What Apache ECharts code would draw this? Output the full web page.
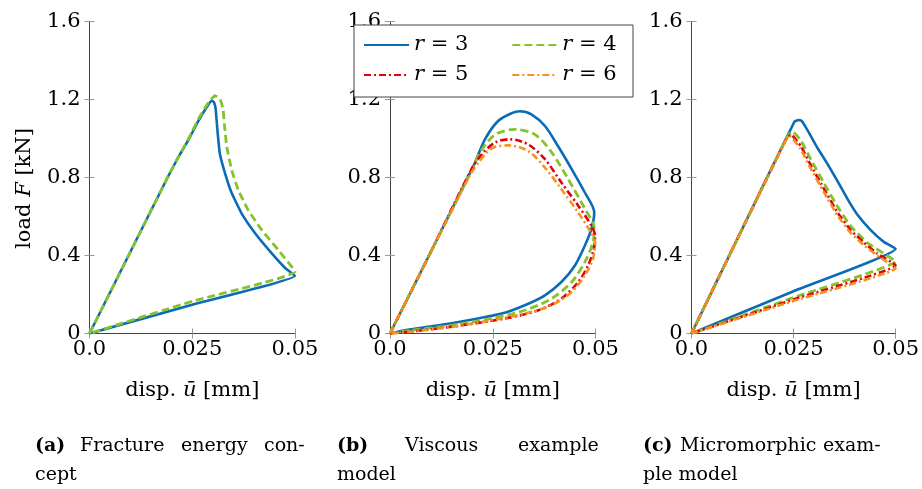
<!DOCTYPE html>
<html>
<head>
<meta charset="utf-8">
<script src="https://cdn.jsdelivr.net/npm/echarts@6/dist/echarts.min.js"></script>
<style>
  html, body { margin: 0; padding: 0; background: #fff; }
  #chart { width: 922px; height: 489px; }
</style>
</head>
<body>
<div id="chart"></div>
<script>
/************** 数据 ***************/
var xTicks = [0, 0.025, 0.05];
var xTickLabels = ['0.0', '0.025', '0.05'];
var yTickLabels = ['0', '0.4', '0.8', '1.2', '1.6'];
var seriesNames = ['r = 3', 'r = 4', 'r = 5', 'r = 6'];

// (a) fracture energy concept
var aR3 = [[0, 0], [0.0095, 0.4], [0.019, 0.8], [0.0215, 0.9], [0.0240, 0.99], [0.0265, 1.09], [0.0285, 1.16],
    [0.0297, 1.195], [0.0303, 1.185], [0.0307, 1.15], [0.0309, 1.10], [0.0312, 1.025], [0.0317, 0.923],
    [0.033, 0.82], [0.0346, 0.72], [0.037, 0.616], [0.0403, 0.514], [0.0443, 0.412], [0.0476, 0.336],
    [0.05, 0.296], [0.025, 0.148], [0, 0]];
var aR4 = [[0, 0], [0.0095, 0.4], [0.019, 0.8], [0.0215, 0.9], [0.0240, 0.995], [0.0265, 1.1], [0.0288, 1.18],
    [0.0305, 1.22], [0.0318, 1.20], [0.0325, 1.15], [0.0328, 1.076], [0.0334, 0.957], [0.0346, 0.838],
    [0.0362, 0.735], [0.0386, 0.633], [0.0419, 0.531], [0.0459, 0.429], [0.05, 0.318], [0.025, 0.165], [0, 0]];

// (b) viscous example model
var bR3 = [[0, 0], [0.0095, 0.4], [0.019, 0.805], [0.0207, 0.877], [0.0231, 0.996], [0.0263, 1.09], [0.0296, 1.13],
    [0.0316, 1.14], [0.0344, 1.124], [0.0377, 1.064], [0.0409, 0.96], [0.0442, 0.843], [0.0474, 0.723],
    [0.0497, 0.62], [0.049, 0.536], [0.0474, 0.45], [0.045, 0.349], [0.0417, 0.264], [0.0377, 0.196],
    [0.0328, 0.145], [0.0272, 0.102], [0.0191, 0.068], [0.011, 0.039], [0.0036, 0.017], [0, 0]];
var bR4 = [[0, 0], [0.0095, 0.4], [0.019, 0.8], [0.0203, 0.86], [0.0224, 0.945], [0.0256, 1.02], [0.0304, 1.047],
    [0.0353, 1.02], [0.0393, 0.93], [0.0434, 0.79], [0.0474, 0.64], [0.0497, 0.54], [0.0494, 0.468],
    [0.0474, 0.366], [0.0442, 0.264], [0.0393, 0.179], [0.0328, 0.119], [0.0247, 0.077], [0.015, 0.042],
    [0.0053, 0.017], [0, 0]];
var bR5 = [[0, 0], [0.0095, 0.4], [0.0199, 0.845], [0.0224, 0.92], [0.0256, 0.98], [0.0292, 0.996], [0.0336, 0.97],
    [0.0377, 0.894], [0.0417, 0.774], [0.0458, 0.655], [0.049, 0.553], [0.0499, 0.5], [0.0496, 0.434],
    [0.0482, 0.349], [0.0458, 0.264], [0.0417, 0.179], [0.0361, 0.119], [0.028, 0.077], [0.0175, 0.042],
    [0.006, 0.012], [0, 0]];
var bR6 = [[0, 0], [0.0095, 0.4], [0.0194, 0.81], [0.0215, 0.877], [0.0248, 0.95], [0.0288, 0.965], [0.0336, 0.936],
    [0.0377, 0.851], [0.0417, 0.74], [0.0458, 0.62], [0.0486, 0.528], [0.0499, 0.468], [0.0494, 0.383],
    [0.0474, 0.298], [0.0442, 0.213], [0.0393, 0.145], [0.0328, 0.102], [0.0247, 0.068], [0.015, 0.034],
    [0.0053, 0.01], [0, 0]];

// (c) micromorphic example model
var cR3 = [[0, 0], [0.0125, 0.54], [0.0252, 1.086], [0.0262, 1.095], [0.0270, 1.09], [0.0278, 1.065], [0.0293, 1.01],
    [0.0309, 0.95], [0.0333, 0.87], [0.0358, 0.78], [0.0382, 0.69], [0.0406, 0.61], [0.0439, 0.53],
    [0.0471, 0.47], [0.05, 0.434], [0.025, 0.217], [0, 0]];
var cR4 = [[0, 0], [0.0118, 0.51], [0.0236, 1.015], [0.0248, 1.035], [0.0268, 0.99], [0.0293, 0.89], [0.0325, 0.77],
    [0.0358, 0.65], [0.039, 0.55], [0.0431, 0.465], [0.0471, 0.41], [0.05, 0.37], [0.025, 0.185], [0, 0]];
var cR5 = [[0, 0], [0.0117, 0.505], [0.0234, 1.005], [0.0244, 1.02], [0.0268, 0.96], [0.0293, 0.86], [0.0325, 0.74],
    [0.0358, 0.62], [0.039, 0.53], [0.0423, 0.465], [0.0455, 0.41], [0.05, 0.35], [0.025, 0.175], [0, 0]];
var cR6 = [[0, 0], [0.0116, 0.5], [0.0232, 0.995], [0.0242, 1.01], [0.0266, 0.95], [0.0291, 0.85], [0.0323, 0.73],
    [0.0356, 0.61], [0.0388, 0.52], [0.0421, 0.455], [0.0455, 0.40], [0.05, 0.335], [0.025, 0.167], [0, 0]];

/************** 样式 ***************/
var FONT = 'DejaVu Serif';
var FS = 21;
var colors = ['#0a6cb5', '#86c22a', '#e2000f', '#f7901e'];
var dashes = ['solid', [8, 4], [7, 3, 2, 3], [7, 3, 2, 3]];
var widths = [2.6, 2.8, 2.6, 2.6];
var smoothing = [0.12, 0.3, 0.12];

var gridLefts = [89.5, 390, 691.5];
var gridWidth = 205.5;

/************** 初始化 ***************/
var myChart = echarts.init(document.getElementById('chart'));

var grids = [], xAxes = [], yAxes = [], series = [];

function baseAxis(gi) {
    return {
        type: 'value',
        gridIndex: gi,
        axisLine: { show: true, lineStyle: { color: '#444', width: 1 } },
        axisTick: { show: true, inside: true, length: 5, lineStyle: { color: '#999', width: 1 } },
        splitLine: { show: false }
    };
}

gridLefts.forEach(function (left, i) {
    grids.push({ left: left, top: 21.5, width: gridWidth, height: 312 });

    var xb = baseAxis(i);
    xb.position = 'bottom';
    xb.min = 0; xb.max = 0.05; xb.interval = 0.025;
    xb.axisLabel = {
        margin: 6, color: '#000', fontFamily: FONT, fontSize: FS,
        formatter: function (v) { return xTickLabels[xTicks.indexOf(v)] || ''; },
        showMinLabel: true, showMaxLabel: true
    };
    xb.name = 'disp. {i|ū} [mm]';
    xb.nameLocation = 'middle';
    xb.nameGap = 47;
    xb.nameTextStyle = { color: '#000', fontFamily: FONT, fontSize: FS,
        rich: { i: { fontStyle: 'italic', fontFamily: FONT, fontSize: FS } } };

    var xt = baseAxis(i);
    xt.position = 'top';
    xt.min = 0; xt.max = 0.05; xt.interval = 0.025;
    xt.axisLabel = { show: false };

    var yl = baseAxis(i);
    yl.position = 'left';
    yl.min = 0; yl.max = 1.6; yl.interval = 0.4;
    yl.axisLabel = {
        margin: 9, color: '#000', fontFamily: FONT, fontSize: FS,
        formatter: function (v) { return yTickLabels[Math.round(v / 0.4)]; }
    };
    if (i === 0) {
        yl.name = 'load {i|F} [kN]';
        yl.nameLocation = 'middle';
        yl.nameGap = 54;
        yl.nameTextStyle = { color: '#000', fontFamily: FONT, fontSize: FS, padding: [0, 22, 0, 0],
            rich: { i: { fontStyle: 'italic', fontFamily: FONT, fontSize: FS } } };
    }

    var yr = baseAxis(i);
    yr.position = 'right';
    yr.min = 0; yr.max = 1.6; yr.interval = 0.4;
    yr.axisLabel = { show: false };

    xAxes.push(xb, xt);
    yAxes.push(yl, yr);
});

function addSeries(gi, k, data) {
    series.push({
        name: seriesNames[k],
        type: 'line',
        xAxisIndex: gi * 2,
        yAxisIndex: gi * 2,
        data: data,
        symbol: 'none',
        showSymbol: false,
        smooth: smoothing[gi],
        color: colors[k],
        lineStyle: { color: colors[k], width: widths[k], type: dashes[k] },
        z: 2 + k
    });
}

addSeries(0, 0, aR3);
addSeries(0, 1, aR4);
addSeries(1, 0, bR3);
addSeries(1, 1, bR4);
addSeries(1, 2, bR5);
addSeries(1, 3, bR6);
addSeries(2, 0, cR3);
addSeries(2, 1, cR4);
addSeries(2, 2, cR5);
addSeries(2, 3, cR6);

var legendText = {
    color: '#000', fontFamily: FONT, fontSize: FS, lineHeight: 28,
    rich: { i: { fontStyle: 'italic', fontFamily: FONT, fontSize: FS } }
};
function legendFmt(name) {
    return '{i|r} = ' + name.split('= ')[1];
}
function legendRow(names, top) {
    return {
        data: names, left: 363, top: top, padding: 0, itemGap: 43,
        itemWidth: 45, itemHeight: 14, formatter: legendFmt, textStyle: legendText, z: 6,
        itemStyle: { opacity: 0 }
    };
}

// 图注
var captionFont = { fontFamily: FONT, fontSize: 19, fill: '#000', verticalAlign: 'middle' };
function cap(text, x, y, bold) {
    return {
        type: 'text', x: x, y: y, z: 10,
        style: Object.assign({ text: text, fontWeight: bold ? 'bold' : 'normal' }, captionFont)
    };
}
var captions = [
    cap('(a)', 35, 446, true), cap('Fracture', 80, 446), cap('energy', 181, 446), cap('con-', 264, 446),
    cap('cept', 35, 475),
    cap('(b)', 337, 446, true), cap('Viscous', 405, 446), cap('example', 518, 446),
    cap('model', 337, 475),
    cap('(c)', 643, 446, true), cap('Micromorphic', 680, 446), cap('exam-', 823, 446),
    cap('ple model', 643, 475)
];

var option = {
    animation: false,
    backgroundColor: '#fff',
    textStyle: { fontFamily: FONT },
    grid: grids,
    xAxis: xAxes,
    yAxis: yAxes,
    legend: [legendRow(['r = 3', 'r = 4'], 31), legendRow(['r = 5', 'r = 6'], 61)],
    graphic: [
        {
            type: 'rect', z: 5, shape: { x: 354, y: 25, width: 279, height: 72 },
            style: { fill: '#fff', stroke: '#444', lineWidth: 1 }
        }
    ].concat(captions),
    series: series
};

myChart.setOption(option);
</script>
</body>
</html>
